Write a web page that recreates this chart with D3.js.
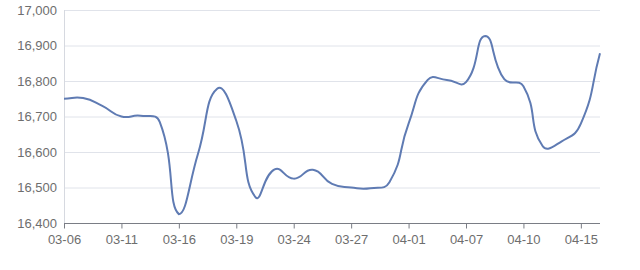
<!DOCTYPE html>
<html><head><meta charset="utf-8">
<script src="https://cdn.jsdelivr.net/npm/d3@7/dist/d3.min.js"></script>
<style>
html,body{margin:0;padding:0;background:#fff;}
svg{display:block;}
text{font-family:"Liberation Sans",Arial,sans-serif;}
</style></head>
<body>
<svg id="c" width="640" height="270"></svg>
<script>
const dates = ["03-06","03-09","03-10","03-11","03-12","03-13","03-16","03-17","03-18","03-19","03-20","03-23","03-24","03-25","03-26","03-27","03-30","03-31","04-01","04-02","04-03","04-07","04-08","04-09","04-10","04-13","04-14","04-15","04-16"];
const prices = [16750,16752,16730,16700,16702,16685,16425,16595,16778,16688,16473,16551,16525,16550,16510,16500,16498,16515,16680,16803,16803,16797,16927,16805,16785,16617,16630,16680,16878];
const yTicks = [16400,16500,16600,16700,16800,16900,17000];
const labelEvery = 3;

const svg = d3.select("#c");
const m = {l:64, r:600, t:10, b:223};
const x = d3.scalePoint().domain(dates).range([m.l, m.r]);
const y = d3.scaleLinear().domain([16400,17000]).range([m.b, m.t]);
const fmt = d3.format(",");

// grid
svg.append("g").selectAll("line").data(yTicks.slice(1)).join("line")
  .attr("x1", m.l).attr("x2", m.r)
  .attr("y1", d=>y(d)+0.5).attr("y2", d=>y(d)+0.5)
  .attr("stroke", "#e0e3ea").attr("stroke-width", 1);

// y axis line
svg.append("line").attr("x1", m.l+0.5).attr("x2", m.l+0.5).attr("y1", m.t).attr("y2", m.b)
  .attr("stroke", "#d6d9e0");

// y labels
svg.append("g").selectAll("text").data(yTicks).join("text")
  .attr("x", 57).attr("y", d=>y(d)).attr("dy", "0.35em")
  .attr("text-anchor", "end").attr("font-size", 13).attr("fill", "#6e6e6e")
  .text(d=>fmt(d));

// x axis
const xa = d3.axisBottom(x)
  .tickValues(dates.filter((d,i)=>i%labelEvery===0))
  .tickSize(5).tickPadding(6);
const gx = svg.append("g").attr("transform", `translate(0,${m.b+0.5})`).call(xa);
gx.select(".domain").attr("stroke", "#7a7d85").attr("d", `M${m.l},0H${m.r}`);
gx.selectAll(".tick line").attr("stroke", "#7a7d85");
gx.selectAll(".tick text").attr("font-size", 13).attr("fill", "#6e6e6e")
  .attr("font-family", "Liberation Sans, Arial, sans-serif");

// smooth line (bezier smoothing similar to ECharts smooth:true)
function smoothPath(pts, smooth){
  const xs = pts.map(p=>p[0]), ys = pts.map(p=>p[1]);
  const minX=d3.min(xs), maxX=d3.max(xs), minY=d3.min(ys), maxY=d3.max(ys);
  const n = pts.length, cin = [], cout = [];
  for(let i=0;i<n;i++){
    const p=pts[i], pv=pts[i-1]||p, nx=pts[i+1]||p;
    const vx=nx[0]-pv[0], vy=nx[1]-pv[1];
    const lp=Math.hypot(p[0]-pv[0],p[1]-pv[1]), ln=Math.hypot(nx[0]-p[0],nx[1]-p[1]);
    const r = (lp+ln)>0 ? ln/(lp+ln) : 0.5;
    const cl=(a,lo,hi)=>Math.max(lo,Math.min(hi,a));
    cin[i]=[cl(p[0]-vx*smooth*(1-r),minX,maxX), cl(p[1]-vy*smooth*(1-r),minY,maxY)];
    cout[i]=[cl(p[0]+vx*smooth*r,minX,maxX), cl(p[1]+vy*smooth*r,minY,maxY)];
  }
  let d = `M${pts[0][0]},${pts[0][1]}`;
  for(let i=1;i<n;i++){
    d += `C${cout[i-1][0]},${cout[i-1][1]},${cin[i][0]},${cin[i][1]},${pts[i][0]},${pts[i][1]}`;
  }
  return d;
}
const pts = prices.map((v,i)=>[x(dates[i]), y(v)]);
svg.append("path").attr("d", smoothPath(pts, 0.5))
  .attr("fill", "none").attr("stroke", "#5f7bb3").attr("stroke-width", 2)
  .attr("stroke-linejoin", "round");
</script>
</body></html>
